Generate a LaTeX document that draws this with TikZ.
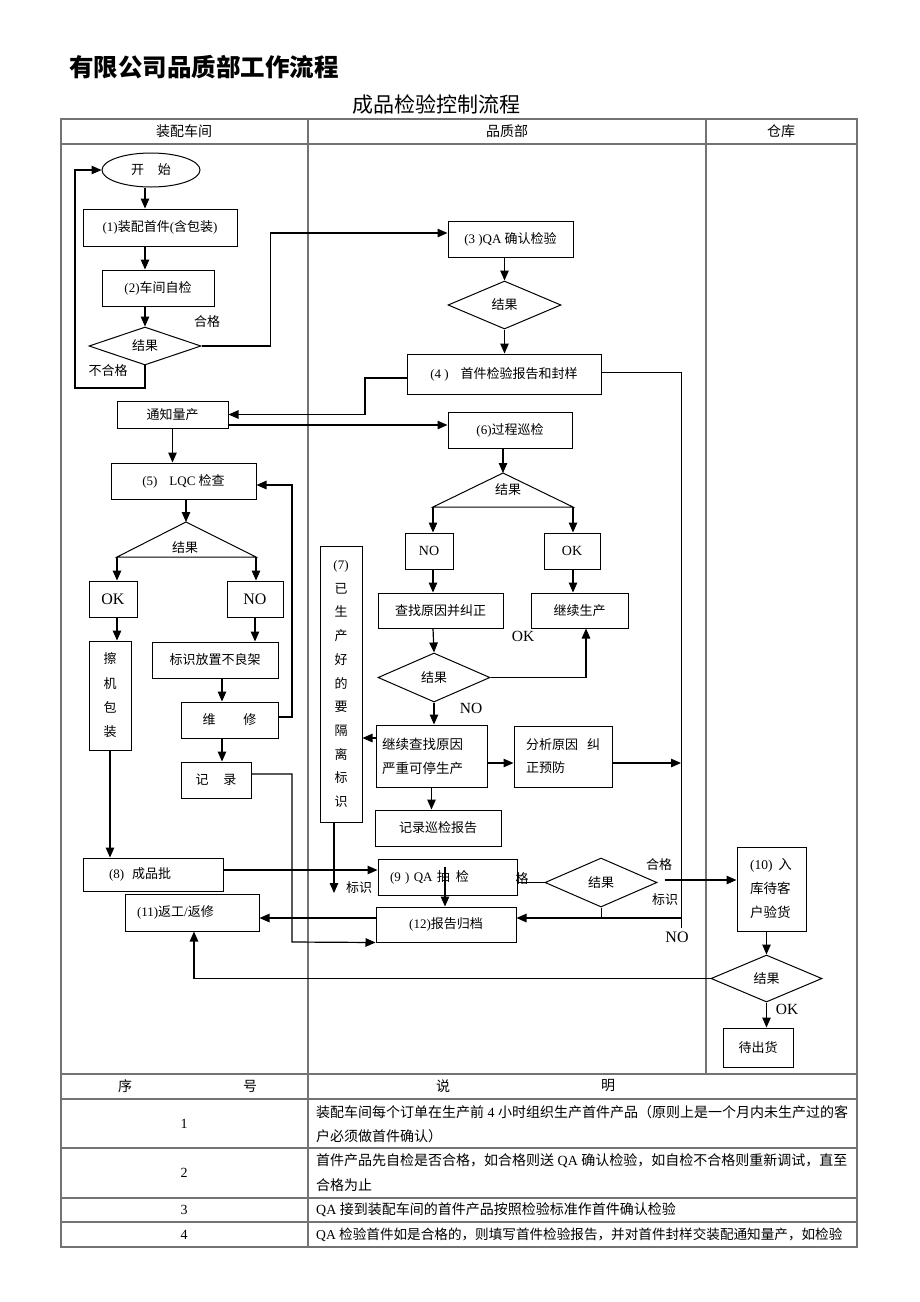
\documentclass[tikz,border=0pt]{standalone}
\usepackage{fontspec}
\setmainfont{Liberation Serif}
\newfontfamily\cjk{Noto Sans CJK SC}
\usetikzlibrary{shapes.geometric,arrows.meta}
\definecolor{tgray}{RGB}{115,115,115}
\XeTeXinterchartokenstate=1
\newXeTeXintercharclass\CJKcls
\newcount\cjkc
\cjkc="4E00
\loop\XeTeXcharclass\cjkc=\CJKcls\relax\ifnum\cjkc<"9FFF\advance\cjkc by 1\repeat
\cjkc="3000
\loop\XeTeXcharclass\cjkc=\CJKcls\relax\ifnum\cjkc<"303F\advance\cjkc by 1\repeat
\cjkc="FF00
\loop\XeTeXcharclass\cjkc=\CJKcls\relax\ifnum\cjkc<"FFEF\advance\cjkc by 1\repeat
\XeTeXinterchartoks 0 \CJKcls = {\cjk}
\XeTeXinterchartoks 4095 \CJKcls = {\cjk}
\XeTeXinterchartoks \CJKcls 0 = {\rmfamily}
\XeTeXinterchartoks \CJKcls 4095 = {\rmfamily}
\begin{document}
\begin{tikzpicture}[x=1pt,y=-1pt,
  every node/.style={font=\fontsize{13}{16}\selectfont, inner sep=0pt},
  bx/.style={draw, line width=1pt, rectangle},
  dm/.style={draw, line width=1pt, diamond, inner sep=0pt},
  ln/.style={line width=1pt},
  ar/.style={line width=1.2pt, -{Triangle[length=10pt,width=8.5pt]}},
  tl/.style={draw=tgray, line width=1.1pt},
  big/.style={font=\fontsize{16}{18}\selectfont},
  lab/.style={font=\fontsize{15.5}{18}\selectfont},
  tb/.style={font=\fontsize{14}{16}\selectfont},
]
\useasboundingbox (0,0) rectangle (920,1302);
\fill[white] (0,0) rectangle (920,1302);

% titles
\node[anchor=west, font=\fontsize{24.5}{28}\selectfont\bfseries] (title) at (69,67) {有限公司品质部工作流程};
\node[font=\fontsize{21}{24}\selectfont] (sub) at (436,105) {成品检验控制流程};

% table frame
\draw[tl] (61,119) rectangle (857,1247);
\draw[tl] (61,144) -- (857,144);
\draw[tl] (308,119) -- (308,1247);
\draw[tl] (706,119) -- (706,1074);
\draw[tl] (61,1074) -- (857,1074);
\draw[tl] (61,1099) -- (857,1099);
\draw[tl] (61,1148) -- (857,1148);
\draw[tl] (61,1198) -- (857,1198);
\draw[tl] (61,1222) -- (857,1222);
\node[tb] (h1) at (184,131) {装配车间};
\node[tb] (h2) at (507,131) {品质部};
\node[tb] (h3) at (781,131) {仓库};

% ---------- assembly lane ----------
\node[draw, ellipse, line width=1pt, minimum width=98pt, minimum height=34pt] (start) at (151,170) {开\hspace{14pt}始};
\node[bx, minimum width=154pt, minimum height=37pt] (b1) at (160,227.5) {(1)装配首件(含包装)};
\node[bx, minimum width=112pt, minimum height=36pt] (b2) at (158,288) {(2)车间自检};
\node[dm, minimum width=112pt, minimum height=36pt] (d1) at (145,346) {结果};
\node (l1) at (207,322) {合格};
\node (l2) at (108,371) {不合格};

\node[bx, minimum width=111pt, minimum height=27pt] (tz) at (172.5,414.5) {通知量产};
\node[bx, minimum width=145pt, minimum height=36pt] (b5) at (183.5,481) {(5)\hspace{12pt}LQC 检查};
\coordinate (t1a) at (186,522);
\coordinate (t1l) at (117,557);
\coordinate (t1r) at (256,557);
\node (t1t) at (185,547.5) {结果};
\node[bx, big, minimum width=48pt, minimum height=36pt] (ok1) at (113,599) {OK};
\node[bx, big, minimum width=56pt, minimum height=36pt] (no1) at (255,599) {NO};
\node[bx, minimum width=42pt, minimum height=109pt, align=center, font=\fontsize{13}{24.3}\selectfont] (cj) at (110,695.5) {擦\\机\\包\\装};
\node[bx, minimum width=126pt, minimum height=36pt] (bz) at (215,660) {标识放置不良架};
\node[bx, minimum width=97pt, minimum height=36pt] (wx) at (229.5,720) {维\hspace{28pt}修};
\node[bx, minimum width=70pt, minimum height=36pt] (jl) at (216,780) {记\hspace{15pt}录};
\coordinate (a2) at (222,700);
\node[bx, minimum width=140pt, minimum height=33pt, text width=88pt, inner xsep=26pt, align=left] (b8) at (153,874.5) {(8)\hspace{8pt}成品批};
\node[bx, minimum width=134pt, minimum height=37pt, text width=110pt, inner xsep=12pt, align=left] (b11) at (192,912.5) {(11)返工/返修};

% ---------- quality lane ----------
\node[bx, minimum width=125pt, minimum height=36pt] (b3) at (510.5,239) {(3 )QA 确认检验};
\node[dm, minimum width=113pt, minimum height=48pt] (d2) at (504.5,305) {结果};
\node[bx, minimum width=194pt, minimum height=40pt] (b4) at (504,374) {(4 )\hspace{12pt}首件检验报告和封样};
\node[bx, minimum width=124pt, minimum height=36pt] (b6) at (510,430) {(6)过程巡检};
\coordinate (t2a) at (503,473);
\coordinate (t2l) at (433,507);
\coordinate (t2r) at (573,507);
\node (t2t) at (508,490) {结果};
\node[bx, font=\fontsize{14}{16}\selectfont, minimum width=48pt, minimum height=36pt] (no2) at (429,551) {NO};
\node[bx, font=\fontsize{14}{16}\selectfont, minimum width=56pt, minimum height=36pt] (ok2) at (572,551) {OK};
\node[bx, minimum width=125pt, minimum height=35pt] (cz) at (440.5,610.5) {查找原因并纠正};
\node[bx, minimum width=97pt, minimum height=35pt] (jx) at (579.5,610.5) {继续生产};
\node[dm, minimum width=112pt, minimum height=49pt] (d3) at (434,677.5) {结果};
\node[lab] (l3) at (523,636) {OK};
\node[lab] (l4) at (471,708) {NO};
\node[bx, minimum width=111pt, minimum height=62pt, text width=99pt, inner xsep=6pt, align=left, font=\fontsize{13.5}{24}\selectfont] (jc) at (431.5,756) {继续查找原因\\严重可停生产};
\node[bx, minimum width=98pt, minimum height=61pt, text width=74pt, inner xsep=12pt, align=left, font=\fontsize{13}{23}\selectfont] (fx) at (563,756.5) {分析原因\hspace{9pt}纠\\正预防};
\node[bx, minimum width=42pt, minimum height=276pt, align=center, font=\fontsize{13}{23.7}\selectfont] (jx7) at (341,684) {(7)\\已\\生\\产\\好\\的\\要\\隔\\离\\标\\识};
\node[bx, minimum width=126pt, minimum height=36pt] (xb) at (438,828) {记录巡检报告};
\node[bx, minimum width=139pt, minimum height=36pt, text width=115pt, inner xsep=12pt, align=left] (b9) at (447.5,877) {(9 ) QA 抽\hspace{6pt}检};
\node[bx, minimum width=140pt, minimum height=35pt] (b12) at (446,924.5) {(12)报告归档};
\node[dm, minimum width=112pt, minimum height=49pt] (d4) at (601,882.5) {结果};
\node (l5) at (522,879) {格};
\node (l6) at (659,865) {合格};
\node (l7) at (665,900) {标识};
\node[big] (l8) at (677,937) {NO};
\node (l9) at (359,888) {标识};
\coordinate (vR) at (681,928);

% ---------- warehouse lane ----------
\node[bx, minimum width=69pt, minimum height=84pt, text width=43pt, inner xsep=13pt, align=left, font=\fontsize{13.5}{24}\selectfont] (b10) at (771.5,889) {(10)\hspace{6pt}入\\库待客\\户验货};
\node[dm, minimum width=111pt, minimum height=47pt] (d5) at (766.5,978.5) {结果};
\node[lab] (l10) at (787,1009) {OK};
\node[bx, minimum width=70pt, minimum height=39pt] (dc) at (758,1047.5) {待出货};

% ---------- connectors: assembly ----------
\draw[ar] (start.south -| d1) -- (b1.north -| d1);
\draw[ar] (b1.south -| d1) -- (b2.north -| d1);
\draw[ar] (b2.south -| d1) -- (d1.north);
\draw[ar] (d1.east) -- ++(69,0) |- ([yshift=6pt]b3.west);
\draw[ar] (d1.south) |- (75,388) |- (start.west);
\draw[ar] ([yshift=-4pt]b4.west) -| (365,414.5) -- (tz.east);
\draw[ar] ([yshift=-10.5pt]tz.east) -- ([yshift=5pt]b6.west);
\draw[ar] (tz.south) -- (b5.north -| tz);
\draw[ar] (b5.south -| t1a) -- (t1a);
\draw[ln] (t1a) -- (t1l) -- (t1r) -- cycle;
\draw[ar] (t1l) -- (ok1.north -| t1l);
\draw[ar] (t1r) -- (no1.north -| t1r);
\draw[ar] (ok1.south -| t1l) -- (cj.north -| t1l);
\draw[ar] (cj.south) -- (b8.north -| cj);
\draw[ar] (no1.south) -- (bz.north -| no1);
\draw[ar] (bz.south -| a2) -- (wx.north -| a2);
\draw[ar] (wx.south -| a2) -- (jl.north -| a2);
\draw[ar] ([yshift=3pt]wx.east) -| (292,485) -- ([yshift=-4pt]b5.east);
\draw[ar] ([yshift=6pt]jl.east) -| (292,942) -- (b12.south west);

% ---------- connectors: quality ----------
\draw[ar] (b3.south -| d2) -- (d2.north);
\draw[ar] (d2.south) -- (b4.north -| d2);
\draw[ln] ([yshift=2pt]b4.east) -| (vR);
\draw[ar] (b6.south -| t2a) -- (t2a);
\draw[ln] (t2a) -- (t2l) -- (t2r) -- cycle;
\draw[ar] (t2l) -- (no2.north -| t2l);
\draw[ar] (t2r) -- (ok2.north -| t2r);
\draw[ar] (no2.south -| t2l) -- (cz.north -| t2l);
\draw[ar] (ok2.south -| t2r) -- (jx.north -| t2r);
\draw[ar] (cz.south -| t2l) -- (d3.north);
\draw[ar] (d3.east) -| ([xshift=6.5pt]jx.south);
\draw[ar] (d3.south) -- (jc.north -| d3);
\coordinate (p7) at ([yshift=18pt]jc.west);
\draw[ar] (p7) -- (p7 -| jx7.east);
\coordinate (pf) at ([yshift=-7pt]jc.east);
\draw[ar] (pf) -- (pf -| fx.west);
\coordinate (p8) at ([yshift=-6.5pt]fx.east);
\draw[ar] (p8) -- (p8 -| vR);
\draw[ar] (jc.south) -- (xb.north -| jc);
\coordinate (p7b) at (334,893);
\draw[ar] ([xshift=-7pt]jx7.south) -- (p7b);
\coordinate (p9) at ([yshift=4.5pt]b8.east);
\draw[ar] (p9) -- (p9 -| b9.west);
\draw[ar] ([xshift=-2.5pt,yshift=10pt]b9.center) -- ([xshift=-1pt]b12.north);
\draw[ln] (b9.east |- d4.west) -- (d4.west);
\coordinate (p10) at ([xshift=7pt,yshift=2.5pt]d4.east);
\draw[ar] (p10) -- (p10 -| b10.west);
\draw[ln] (d4.south) -- ++(0,11);
\coordinate (p12) at (681,918);
\draw[ar] (p12) -- (p12 -| b12.east);
\coordinate (p11) at ([yshift=6.5pt]b12.west);
\draw[ar] (p11) -- (p11 -| b11.east);

% ---------- connectors: warehouse ----------
\draw[ar] (b10.south -| d5) -- (d5.north);
\draw[ar] (d5.south) -- (dc.north -| d5);
\draw[ar] (d5.west) -| ([xshift=2pt]b11.south);

% ---------- lower table ----------
\node[tb] (s1) at (125,1086) {序};
\node[tb] (s2) at (250,1086) {号};
\node[tb] (s3) at (443,1086) {说};
\node[tb] (s4) at (608,1086) {明};
\node[tb] (n1) at (184,1124) {1};
\node[tb] (n2) at (184,1173) {2};
\node[tb] (n3) at (184,1210) {3};
\node[tb] (n4) at (184,1235) {4};
\node[tb, anchor=west] (r1a) at (316,1112) {装配车间每个订单在生产前 4 小时组织生产首件产品（原则上是一个月内未生产过的客};
\node[tb, anchor=west] (r1b) at (316,1136) {户必须做首件确认）};
\node[tb, anchor=west] (r2a) at (316,1161) {首件产品先自检是否合格，如合格则送 QA 确认检验，如自检不合格则重新调试，直至};
\node[tb, anchor=west] (r2b) at (316,1185) {合格为止};
\node[tb, anchor=west] (r3) at (316,1210) {QA 接到装配车间的首件产品按照检验标准作首件确认检验};
\node[tb, anchor=west, font=\fontsize{13.6}{16}\selectfont] (r4) at (316,1235) {QA 检验首件如是合格的，则填写首件检验报告，并对首件封样交装配通知量产，如检验};
\end{tikzpicture}
\end{document}
